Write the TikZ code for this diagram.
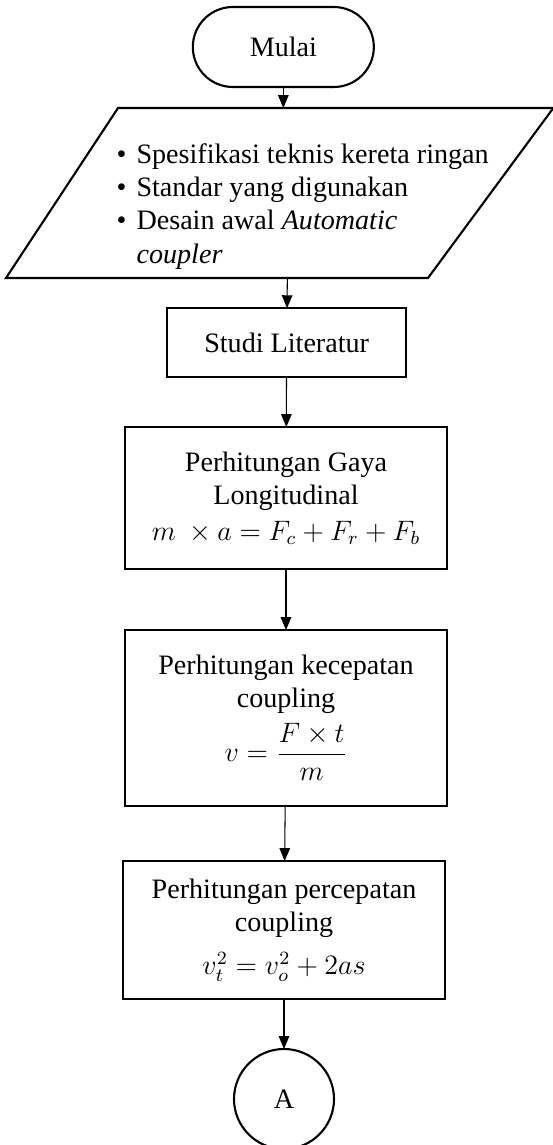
\documentclass[tikz,border=0pt]{standalone}
\usepackage{amsmath}
\usepackage{fontspec}
\setmainfont{Liberation Serif}
\usetikzlibrary{arrows.meta}

\begin{document}
\begin{tikzpicture}[every node/.style={font=\fontsize{12pt}{14.2pt}\selectfont, outer sep=0pt},
  box/.style={draw, line width=0.9pt, minimum width=4.83cm, align=center},
  arr/.style={-{Triangle[length=5.5pt,width=4.5pt]}, line width=0.45pt}]
\useasboundingbox (0,0) rectangle (8.295,-17.175);

\node[draw, line width=0.9pt, rounded corners=0.6cm, minimum width=2.715cm, minimum height=1.2cm] (mulai) at (4.25,-0.705) {Mulai};

\draw[line width=0.9pt] (1.77,-1.62) -- (8.3,-1.62) -- (6.42,-4.17) -- (0.09,-4.17) -- cycle;
\coordinate (intop) at (4.25,-1.62);
\coordinate (inbot) at (4.31,-4.17);
\node[inner sep=0pt] (input) at (4.54,-3.1) {\begin{tabular}{@{}l@{\hspace{4.3pt}}l@{}}
\textbullet & Spesifikasi teknis kereta ringan\\
\textbullet & Standar yang digunakan\\
\textbullet & Desain awal \textit{Automatic}\\
 & \textit{coupler}
\end{tabular}};

\node[box, minimum width=3.585cm, minimum height=1.035cm] (studi) at (4.30,-5.14) {Studi Literatur};
\node[box, minimum height=2.13cm] (gaya) at (4.29,-7.47) {Perhitungan Gaya\\ Longitudinal\\[1pt] $m\ \times a = F_c + F_r + F_b$};
\node[box, minimum height=2.64cm] (kecepatan) at (4.29,-10.77) {Perhitungan kecepatan\\ coupling\\[3pt] $v = \dfrac{F \times t}{m}$};
\node[box, minimum height=2.07cm] (percepatan) at (4.26,-13.95) {Perhitungan percepatan\\ coupling\\[4pt] $v_t^2 = v_o^2 + 2as$};
\node[draw, circle, line width=0.9pt, minimum size=1.5cm] (konektor) at (4.26,-16.485) {A};

\draw[arr] (mulai) -- (intop);
\draw[arr] (inbot) -- (studi);
\draw[arr] (studi) -- (gaya);
\draw[arr] (gaya) -- (kecepatan);
\draw[arr] (kecepatan) -- (percepatan);
\draw[arr] (percepatan) -- (konektor);
\end{tikzpicture}
\end{document}
